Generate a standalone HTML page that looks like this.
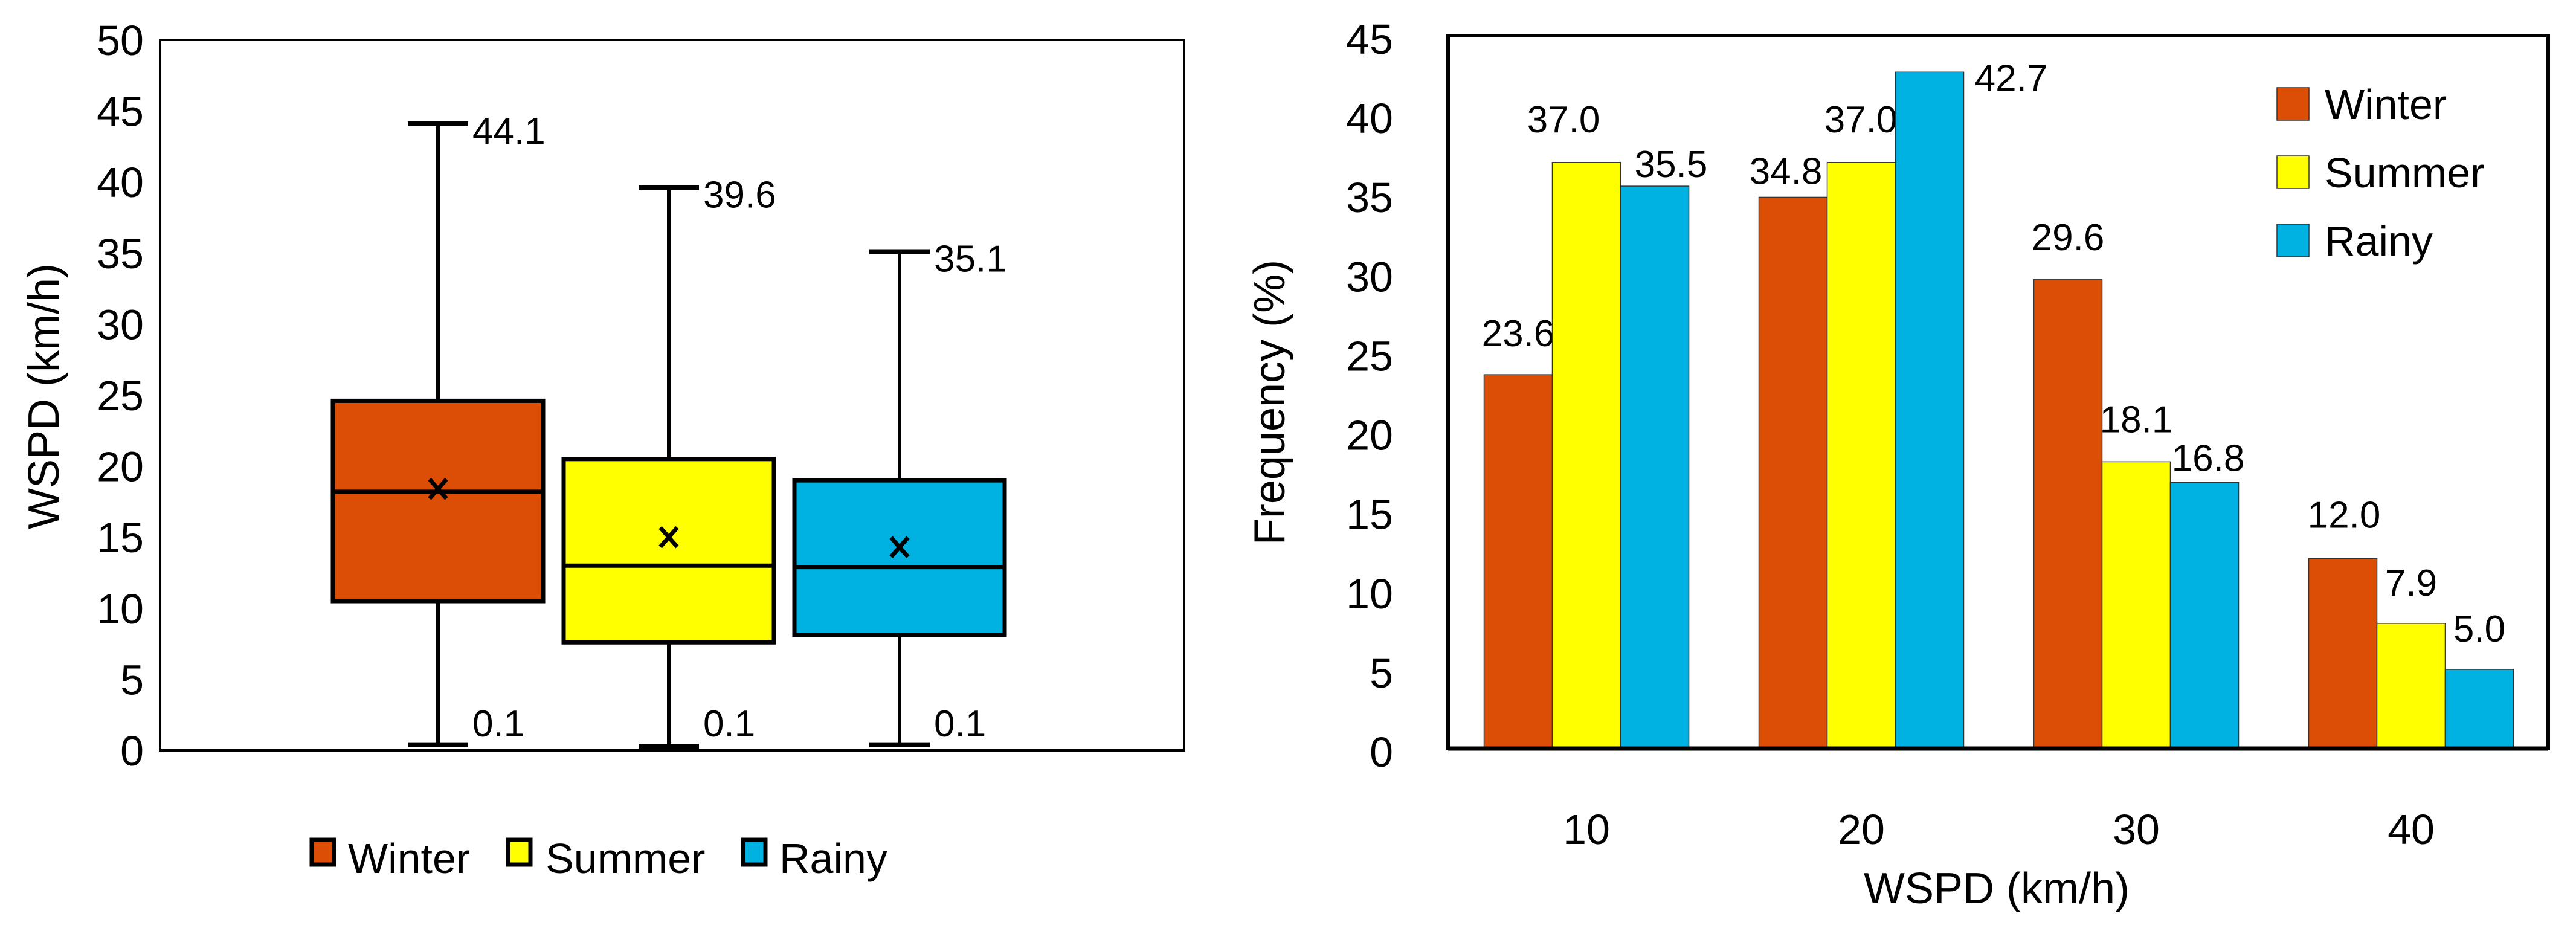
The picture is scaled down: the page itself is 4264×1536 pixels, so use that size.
<!DOCTYPE html>
<html><head><meta charset="utf-8"><style>
html,body{margin:0;padding:0;background:#fff;}
svg{display:block;font-family:"Liberation Sans",sans-serif;}
</style></head><body>
<svg id="chart" width="4264" height="1536" viewBox="0 0 4264 1536" xmlns="http://www.w3.org/2000/svg">
<g id="left"></g>
<g id="right"></g>
</svg>
<script>
// ---- Box plot data ----
const seasons = ["Winter", "Summer", "Rainy"];
const colors = ["#DC4E05", "#FFFF00", "#00B2E2"];
const boxMin = [0.4, 0.3, 0.4];
const boxQ1 = [10.5, 7.6, 8.1];
const boxMedian = [18.2, 13.0, 12.9];
const boxMean = [18.4, 15.0, 14.3];
const boxQ3 = [24.6, 20.5, 19.0];
const boxMax = [44.1, 39.6, 35.1];
const maxLabels = ["44.1", "39.6", "35.1"];
const minLabels = ["0.1", "0.1", "0.1"];
const leftTicks = [0, 5, 10, 15, 20, 25, 30, 35, 40, 45, 50];

// ---- Bar chart data ----
const binLabels = ["10", "20", "30", "40"];
const winterFreq = [23.6, 34.8, 29.6, 12.0];
const summerFreq = [37.0, 37.0, 18.1, 7.9];
const rainyFreq = [35.5, 42.7, 16.8, 5.0];
const rightTicks = [0, 5, 10, 15, 20, 25, 30, 35, 40, 45];

const NS = "http://www.w3.org/2000/svg";
function mk(parent, tag, attrs, text) {
  const e = document.createElementNS(NS, tag);
  for (const k in attrs) e.setAttribute(k, attrs[k]);
  if (text !== undefined) e.textContent = text;
  parent.appendChild(e);
  return e;
}

// ===== LEFT: box plot =====
const L = document.getElementById('left');
const lx0 = 265, lx1 = 1960, ly0 = 66, ly1 = 1242;
const ly = v => ly1 - v / 50 * (ly1 - ly0);
const lxc = i => 725 + i * 382;
let e;
e = mk(L, 'rect', {x: lx0, y: ly0, width: lx1 - lx0, height: ly1 - ly0, fill: '#fff', stroke: '#000', 'stroke-width': 4});


e = mk(L, 'line', {x1: lx0, y1: ly1, x2: lx1, y2: ly1, stroke: '#000', 'stroke-width': 6});


leftTicks.forEach(t => {
  e = mk(L, 'text', {x: 238, y: ly(t) + 25, 'font-size': 70, 'text-anchor': 'end'}, String(t));
  
  
});
e = mk(L, 'text', {x: 0, y: 0, 'font-size': 72, 'text-anchor': 'middle', transform: 'translate(97,656) rotate(-90)'}, 'WSPD (km/h)');


seasons.forEach((s, i) => {
  const c = lxc(i), hw = 174;
  const g = mk(L, 'g', {});
  
  
  mk(g, 'line', {x1: c, y1: ly(boxMax[i]), x2: c, y2: ly(boxMin[i]), stroke: '#000', 'stroke-width': 6});
  mk(g, 'line', {x1: c - 50, y1: ly(boxMax[i]), x2: c + 50, y2: ly(boxMax[i]), stroke: '#000', 'stroke-width': 8});
  mk(g, 'line', {x1: c - 50, y1: ly(boxMin[i]), x2: c + 50, y2: ly(boxMin[i]), stroke: '#000', 'stroke-width': 8});
  mk(g, 'rect', {x: c - hw, y: ly(boxQ3[i]), width: 2 * hw, height: ly(boxQ1[i]) - ly(boxQ3[i]), fill: colors[i], stroke: '#000', 'stroke-width': 7});
  mk(g, 'line', {x1: c - hw, y1: ly(boxMedian[i]), x2: c + hw, y2: ly(boxMedian[i]), stroke: '#000', 'stroke-width': 7});
  const my = ly(boxMean[i]);
  mk(g, 'path', {d: `M${c-14},${my-16}L${c+14},${my+16}M${c+14},${my-16}L${c-14},${my+16}`, stroke: '#000', 'stroke-width': 7});
  e = mk(L, 'text', {x: c + 57, y: ly(boxMax[i]) + 33, 'font-size': 62}, maxLabels[i]);
  
  
  e = mk(L, 'text', {x: c + 57, y: 1219, 'font-size': 62}, minLabels[i]);
  
  
});
const legX = [513, 838, 1227], legTX = [576, 903, 1290];
seasons.forEach((s, i) => {
  e = mk(L, 'rect', {x: legX[i] + 3, y: 1390, width: 37, height: 41, fill: colors[i], stroke: '#000', 'stroke-width': 7});
  
  
  e = mk(L, 'text', {x: legTX[i], y: 1445, 'font-size': 70}, s);
  
  
});

// ===== RIGHT: bar chart =====
const R = document.getElementById('right');
const rx0 = 2397, rx1 = 4218, ry0 = 59, ry1 = 1239;
const ry = v => ry1 - v / 45 * (ry1 - ry0);
const groupX = i => 2626 + i * 455;
const bw = 113;
e = mk(R, 'rect', {x: rx0, y: ry0, width: rx1 - rx0, height: ry1 - ry0, fill: '#fff', stroke: '#000', 'stroke-width': 6});


rightTicks.forEach(t => {
  e = mk(R, 'text', {x: 2306, y: ry(t) + 30, 'font-size': 70, 'text-anchor': 'end'}, String(t));
  
  
});
e = mk(R, 'text', {x: 0, y: 0, 'font-size': 72, 'text-anchor': 'middle', transform: 'translate(2126,666) rotate(-90)'}, 'Frequency (%)');


const series = [winterFreq, summerFreq, rainyFreq];
const labDx = [[0, -38, 27], [-12, -1, 135], [0, 0, 6], [2, 0, 0]];
const labDy = [[-47, -50, -15], [-22, -50, 31], [-49, -49, -19], [-51, -46, -46]];
binLabels.forEach((b, gi) => {
  series.forEach((arr, si) => {
    const cx = groupX(gi) + (si - 1) * bw;
    const v = arr[gi];
    e = mk(R, 'rect', {x: cx - bw / 2, y: ry(v), width: bw, height: ry(0) - ry(v), fill: colors[si], stroke: '#333', 'stroke-width': 1.5});
    
    
    e = mk(R, 'text', {x: cx + labDx[gi][si], y: ry(v) + labDy[gi][si], 'font-size': 62, 'text-anchor': 'middle'}, v.toFixed(1));
    
    
  });
  e = mk(R, 'text', {x: groupX(gi), y: 1397, 'font-size': 70, 'text-anchor': 'middle'}, b);
  
  
});
e = mk(R, 'line', {x1: rx0, y1: ry1, x2: rx1, y2: ry1, stroke: '#000', 'stroke-width': 7});


e = mk(R, 'text', {x: 3305, y: 1495, 'font-size': 72, 'text-anchor': 'middle'}, 'WSPD (km/h)');


const legY = [145, 258, 371];
seasons.forEach((s, i) => {
  e = mk(R, 'rect', {x: 3769, y: legY[i], width: 53, height: 54, fill: colors[i], stroke: '#333', 'stroke-width': 1.5});
  
  
  e = mk(R, 'text', {x: 3848, y: legY[i] + 52, 'font-size': 70}, s);
  
  
});
</script>
</body></html>
